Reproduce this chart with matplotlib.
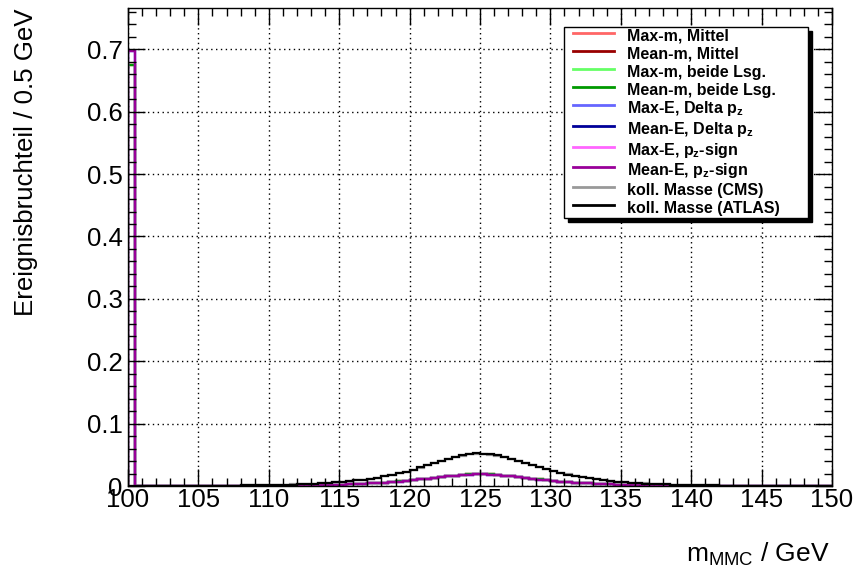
import matplotlib
matplotlib.use('Agg')
import matplotlib.pyplot as plt
import numpy as np
from matplotlib.patches import Rectangle
from matplotlib.ticker import MultipleLocator

plt.rcParams['font.family'] = ['Liberation Sans', 'DejaVu Sans']
plt.rcParams['mathtext.fontset'] = 'custom'
plt.rcParams['mathtext.rm'] = 'Liberation Sans'
plt.rcParams['mathtext.bf'] = 'Liberation Sans:bold'
plt.rcParams['mathtext.default'] = 'regular'

# histogram: 100 bins of 0.5 GeV between 100 and 150 GeV
x_min, x_max, bin_width = 100.0, 150.0, 0.5

# collinear mass, ATLAS (black)
koll_atlas = [
    0.0002, 0.0002, 0.0003, 0.0003, 0.0003, 0.0004, 0.0004, 0.0005, 0.0005, 0.0006,
    0.0007, 0.0007, 0.0008, 0.0009, 0.0010, 0.0011, 0.0012, 0.0013, 0.0014, 0.0016,
    0.0018, 0.0021, 0.0024, 0.0027, 0.0031, 0.0035, 0.0040, 0.0046, 0.0053, 0.0061,
    0.0070, 0.0080, 0.0092, 0.0105, 0.0120, 0.0138, 0.0158, 0.0180, 0.0205, 0.0235,
    0.0265, 0.0300, 0.0335, 0.0370, 0.0405, 0.0440, 0.0470, 0.0495, 0.0515, 0.0525,
    0.0522, 0.0512, 0.0494, 0.0470, 0.0442, 0.0410, 0.0376, 0.0342, 0.0308, 0.0274,
    0.0243, 0.0213, 0.0187, 0.0164, 0.0143, 0.0125, 0.0109, 0.0095, 0.0083, 0.0072,
    0.0063, 0.0055, 0.0048, 0.0042, 0.0037, 0.0032, 0.0028, 0.0025, 0.0022, 0.0019,
    0.0017, 0.0015, 0.0013, 0.0012, 0.0011, 0.0010, 0.0009, 0.0008, 0.0007, 0.0007,
    0.0006, 0.0005, 0.0005, 0.0004, 0.0004, 0.0004, 0.0003, 0.0003, 0.0003, 0.0002,
]

# collinear mass, CMS (gray)
koll_cms = [
    0.0002, 0.0002, 0.0003, 0.0003, 0.0003, 0.0004, 0.0004, 0.0005, 0.0005, 0.0006,
    0.0007, 0.0007, 0.0008, 0.0009, 0.0010, 0.0011, 0.0012, 0.0013, 0.0015, 0.0017,
    0.0019, 0.0022, 0.0025, 0.0028, 0.0032, 0.0036, 0.0041, 0.0047, 0.0054, 0.0062,
    0.0071, 0.0081, 0.0093, 0.0106, 0.0121, 0.0139, 0.0159, 0.0181, 0.0206, 0.0234,
    0.0264, 0.0298, 0.0332, 0.0366, 0.0400, 0.0434, 0.0464, 0.0489, 0.0508, 0.0518,
    0.0517, 0.0507, 0.0490, 0.0467, 0.0440, 0.0409, 0.0376, 0.0343, 0.0309, 0.0276,
    0.0245, 0.0215, 0.0189, 0.0166, 0.0145, 0.0127, 0.0111, 0.0097, 0.0085, 0.0074,
    0.0065, 0.0057, 0.0050, 0.0044, 0.0038, 0.0033, 0.0029, 0.0026, 0.0023, 0.0020,
    0.0018, 0.0016, 0.0014, 0.0012, 0.0011, 0.0010, 0.0009, 0.0008, 0.0007, 0.0007,
    0.0006, 0.0005, 0.0005, 0.0004, 0.0004, 0.0004, 0.0003, 0.0003, 0.0003, 0.0002,
]

# MMC: first bin (no solution found) and the remaining 99 bins
spike_mass = 0.675
spike_energy = 0.697

peak_mass = [
    0.0000, 0.0000, 0.0001, 0.0001, 0.0001, 0.0001, 0.0001, 0.0001, 0.0002, 0.0002,
    0.0002, 0.0002, 0.0003, 0.0003, 0.0003, 0.0004, 0.0004, 0.0005, 0.0005, 0.0006,
    0.0007, 0.0008, 0.0009, 0.0010, 0.0012, 0.0014, 0.0016, 0.0019, 0.0022, 0.0025,
    0.0029, 0.0033, 0.0038, 0.0044, 0.0051, 0.0059, 0.0067, 0.0077, 0.0087, 0.0098,
    0.0110, 0.0122, 0.0135, 0.0148, 0.0160, 0.0171, 0.0181, 0.0189, 0.0194,
    0.0193, 0.0189, 0.0181, 0.0170, 0.0159, 0.0146, 0.0133, 0.0121, 0.0108, 0.0096,
    0.0085, 0.0075, 0.0066, 0.0058, 0.0051, 0.0044, 0.0038, 0.0033, 0.0029, 0.0025,
    0.0022, 0.0019, 0.0016, 0.0014, 0.0012, 0.0010, 0.0009, 0.0008, 0.0007, 0.0006,
    0.0005, 0.0005, 0.0004, 0.0004, 0.0003, 0.0003, 0.0003, 0.0002, 0.0002, 0.0002,
    0.0002, 0.0001, 0.0001, 0.0001, 0.0001, 0.0001, 0.0001, 0.0000, 0.0000, 0.0000,
]

peak_energy = [
    0.0000, 0.0000, 0.0001, 0.0001, 0.0001, 0.0001, 0.0001, 0.0001, 0.0002, 0.0002,
    0.0002, 0.0002, 0.0003, 0.0003, 0.0003, 0.0004, 0.0004, 0.0005, 0.0005, 0.0006,
    0.0007, 0.0008, 0.0009, 0.0010, 0.0012, 0.0014, 0.0016, 0.0019, 0.0022, 0.0025,
    0.0029, 0.0033, 0.0038, 0.0044, 0.0050, 0.0058, 0.0066, 0.0075, 0.0085, 0.0096,
    0.0108, 0.0120, 0.0132, 0.0145, 0.0157, 0.0168, 0.0178, 0.0186, 0.0190,
    0.0189, 0.0185, 0.0177, 0.0167, 0.0156, 0.0144, 0.0131, 0.0119, 0.0107, 0.0095,
    0.0084, 0.0074, 0.0065, 0.0057, 0.0050, 0.0044, 0.0038, 0.0033, 0.0029, 0.0025,
    0.0022, 0.0019, 0.0016, 0.0014, 0.0012, 0.0010, 0.0009, 0.0008, 0.0007, 0.0006,
    0.0005, 0.0005, 0.0004, 0.0004, 0.0003, 0.0003, 0.0003, 0.0002, 0.0002, 0.0002,
    0.0002, 0.0001, 0.0001, 0.0001, 0.0001, 0.0001, 0.0001, 0.0000, 0.0000, 0.0000,
]

labels = [
    'Max-m, Mittel',
    'Mean-m, Mittel',
    'Max-m, beide Lsg.',
    'Mean-m, beide Lsg.',
    'Max-E, Delta $\\mathbf{p_z}$',
    'Mean-E, Delta $\\mathbf{p_z}$',
    'Max-E, $\\mathbf{p_z}$-sign',
    'Mean-E, $\\mathbf{p_z}$-sign',
    'koll. Masse (CMS)',
    'koll. Masse (ATLAS)',
]
colors = ['#ff6666', '#990000', '#66ff66', '#009900', '#6666ff',
          '#000099', '#ff66ff', '#990099', '#999999', '#000000']

mmc_mass = [spike_mass] + peak_mass
mmc_energy = [spike_energy] + peak_energy
series = [mmc_mass, mmc_mass, mmc_mass, mmc_mass,
          mmc_energy, mmc_energy, mmc_energy, mmc_energy,
          koll_cms, koll_atlas]

edges = np.arange(x_min, x_max + bin_width / 2, bin_width)

fig = plt.figure(figsize=(8.59, 5.72), dpi=100)
ax = fig.add_axes([0.149, 0.150, 0.8196, 0.836])

for vals, col, lab in zip(series, colors, labels):
    ax.stairs(vals, edges, color=col, lw=1.6, label=lab)

ax.set_xlim(x_min, x_max)
ax.set_ylim(0, 0.766)
ax.xaxis.set_major_locator(MultipleLocator(5))
ax.xaxis.set_minor_locator(MultipleLocator(1))
ax.yaxis.set_minor_locator(MultipleLocator(0.02))
ax.set_yticks(np.arange(0, 0.75, 0.1))
ax.set_yticklabels(['0', '0.1', '0.2', '0.3', '0.4', '0.5', '0.6', '0.7'])
ax.tick_params(which='both', direction='in', top=True, right=True, labelsize=18.5)
ax.tick_params(which='major', length=12, width=1)
ax.tick_params(which='minor', length=6, width=1)
ax.tick_params(axis='x', pad=1)
ax.tick_params(axis='y', pad=4)
ax.grid(True, which='major', linestyle=(0, (1, 2.5)), color='black', lw=1)
for sp in ax.spines.values():
    sp.set_linewidth(1)

ax.set_xlabel('m$_{\\mathrm{MMC}}$ / GeV', fontsize=19, ha='right', x=0.997, labelpad=21)
ax.set_ylabel('Ereignisbruchteil / 0.5 GeV', fontsize=18.6, ha='right', y=1.0, labelpad=35)

# ROOT style legend box with a solid shadow
box_x0, box_y0, box_w, box_h = 0.619, 0.561, 0.347, 0.399
shadow = Rectangle((box_x0 + 0.006, box_y0 - 0.009), box_w, box_h, transform=ax.transAxes,
                   facecolor='black', edgecolor='black', zorder=4)
frame = Rectangle((box_x0, box_y0), box_w, box_h, transform=ax.transAxes,
                  facecolor='white', edgecolor='black', lw=1, zorder=4.5)
ax.add_patch(shadow)
ax.add_patch(frame)

leg = ax.legend(loc='upper left', bbox_to_anchor=(0.632, 0.960), frameon=False,
                prop={'weight': 'bold', 'size': 11.5},
                handlelength=2.6, handleheight=1.18, handletextpad=0.8,
                labelspacing=0.1, borderpad=0.0, borderaxespad=0)
leg.set_zorder(5)
for line in leg.get_lines():
    line.set_linewidth(2)

fig.savefig('out.png', dpi=100)
